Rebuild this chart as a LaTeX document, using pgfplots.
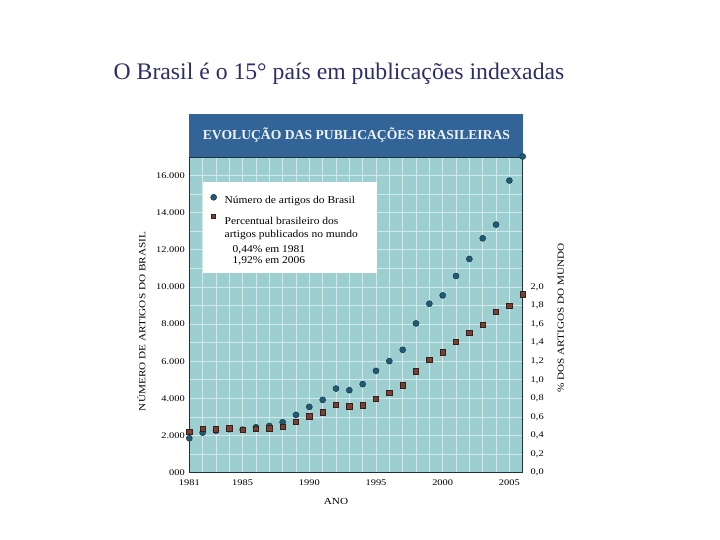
\documentclass[border=0pt]{standalone}
\usepackage{pgfplots}
\usepackage{pgfplotstable}
\pgfplotsset{compat=1.18}
\usepackage{fontspec}
\setmainfont{Liberation Serif}
\newfontfamily\cf[FakeStretch=1.2]{Liberation Serif}
\newfontfamily\lf[FakeStretch=1.1]{Liberation Serif}
\definecolor{bg}{RGB}{157,206,208}
\definecolor{band}{RGB}{50,100,152}
\definecolor{bandtext}{RGB}{238,244,246}
\definecolor{gridc}{RGB}{208,234,236}
\definecolor{bluept}{RGB}{32,92,118}
\definecolor{blueedge}{RGB}{22,52,72}
\definecolor{brownpt}{RGB}{122,64,50}
\definecolor{brownedge}{RGB}{55,32,28}
\definecolor{titlec}{RGB}{45,45,105}
\definecolor{axisc}{RGB}{30,50,60}

\pgfplotstableread{
year artigos pct
1981 1855 0.44
1982 2157 0.471
1983 2265 0.468
1984 2341 0.479
1985 2319 0.464
1986 2449 0.471
1987 2519 0.479
1988 2718 0.493
1989 3112 0.547
1990 3544 0.608
1991 3921 0.652
1992 4531 0.734
1993 4444 0.716
1994 4768 0.727
1995 5485 0.798
1996 6009 0.860
1997 6618 0.943
1998 8037 1.094
1999 9099 1.219
2000 9547 1.297
2001 10593 1.413
2002 11510 1.510
2003 12621 1.593
2004 13360 1.733
2005 15733 1.798
2006 17028 1.92
}\data

\begin{document}
\begin{tikzpicture}
\path[use as bounding box] (0,0) rectangle (720bp,540bp);
% main title
\node[text=titlec, font=\fontsize{23.8}{28}\selectfont] at (339bp,466bp) {O Brasil é o 15° país em publicações indexadas};
% title band
\fill[band] (189.3bp,383bp) rectangle (522.7bp,426bp);
\node[text=bandtext, font=\fontsize{13.7}{16}\selectfont\bfseries] at (356.5bp,404.5bp) {EVOLUÇÃO DAS PUBLICAÇÕES BRASILEIRAS};

\begin{axis}[
  at={(189.3bp,67.3bp)}, anchor=south west,
  scale only axis, width=333.4bp, height=315.7bp,
  xmin=1981, xmax=2006, ymin=0, ymax=17000,
  scaled y ticks=false, scaled x ticks=false,
  axis background/.style={fill=bg},
  axis line style={draw=axisc, line width=0.9pt},
  xtick={1981,1985,1990,1995,2000,2005},
  xticklabels={1981,1985,1990,1995,2000,2005},
  minor xtick={1982,1983,1984,1986,1987,1988,1989,1991,1992,1993,1994,1996,1997,1998,1999,2001,2002,2003,2004,2006},
  ytick={0,2000,4000,6000,8000,10000,12000,14000,16000},
  yticklabels={000,2.000,4.000,6.000,8.000,10.000,12.000,14.000,16.000},
  minor ytick={1000,3000,5000,7000,9000,11000,13000,15000,17000},
  grid=both,
  major grid style={gridc, line width=0.8pt},
  minor grid style={gridc, line width=0.8pt},
  major tick length=0pt, minor tick length=0pt,
  /pgf/number format/assume math mode=true,
  tick label style={font=\cf\fontsize{8.7}{10}\selectfont},
  xticklabel style={yshift=-4bp},
  yticklabel style={xshift=-1bp},
  clip=false,
  xlabel={ANO},
  ylabel={NÚMERO DE ARTIGOS DO BRASIL},
  every axis x label/.style={at={(axis description cs:0.44,-0.092)}, anchor=center, font=\cf\fontsize{9.4}{12}\selectfont},
  every axis y label/.style={at={(axis description cs:-0.144,0.479)}, rotate=90, anchor=center, font=\cf\fontsize{9.4}{12}\selectfont},
  legend style={at={(0.041,0.922)}, anchor=north west, draw=none, fill=white,
    font=\lf\fontsize{10.5}{12}\selectfont, inner xsep=2bp, inner ysep=6bp,
    row sep=-2bp},
  legend cell align=left,
]
\addplot[only marks, mark=*, mark size=3bp, mark options={fill=bluept, draw=blueedge, line width=0.5pt}]
  table[x=year, y=artigos] {\data};
\addlegendentry{\hspace*{6bp}\rule{0pt}{13.5bp}Número de artigos do Brasil}
\addlegendimage{only marks, mark=square*, mark size=2bp, mark options={fill=brownpt, draw=brownedge}}
\addlegendentry{\hspace*{6bp}\rule{0pt}{18bp}Percentual brasileiro dos}
\addlegendimage{empty legend}
\addlegendentry{\hspace*{6bp}\rule{0pt}{9.5bp}artigos publicados no mundo\hspace*{15bp}}
\addlegendimage{empty legend}
\addlegendentry{\hspace*{14bp}\rule{0pt}{11.5bp}0,44\% em 1981}
\addlegendimage{empty legend}
\addlegendentry{\hspace*{14bp}1,92\% em 2006}
\end{axis}

\begin{axis}[
  at={(189.3bp,67.3bp)}, anchor=south west,
  scale only axis, width=333.4bp, height=315.7bp,
  xmin=1981, xmax=2006, ymin=0, ymax=3.4,
  axis x line=none, axis y line*=right,
  axis line style={draw=none},
  ytick={0,0.2,0.4,0.6,0.8,1.0,1.2,1.4,1.6,1.8,2.0},
  yticklabels={{0,0},{0,2},{0,4},{0,6},{0,8},{1,0},{1,2},{1,4},{1,6},{1,8},{2,0}},
  major tick length=0pt,
  /pgf/number format/assume math mode=true,
  tick label style={font=\cf\fontsize{8.7}{10}\selectfont},
  yticklabel style={xshift=4.5bp},
  clip=false,
  ylabel={\% DOS ARTIGOS DO MUNDO},
  every axis y label/.style={at={(axis description cs:1.114,0.49)}, rotate=90, anchor=center, font=\cf\fontsize{9.4}{12}\selectfont},
]
\addplot[only marks, mark=square*, mark size=2.7bp, mark options={fill=brownpt, draw=brownedge, line width=0.5pt}]
  table[x=year, y=pct] {\data};
\end{axis}
\end{tikzpicture}
\end{document}
